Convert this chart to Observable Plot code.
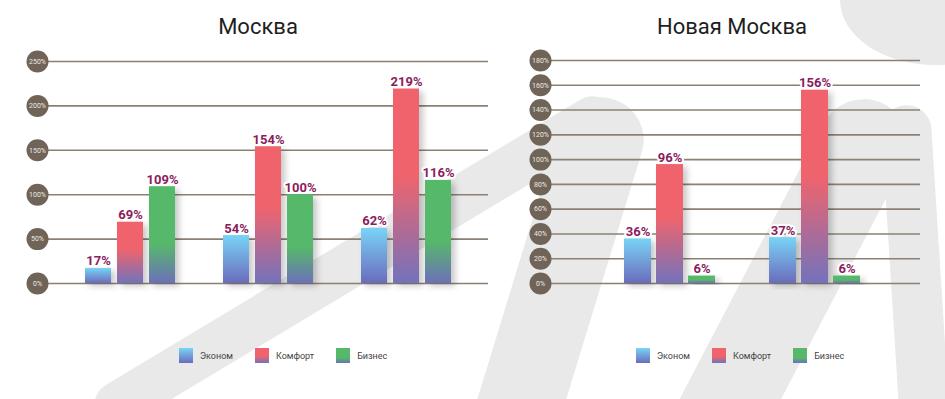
<!DOCTYPE html>
<html>
<head>
<meta charset="utf-8">
<script src="https://cdn.jsdelivr.net/npm/d3@7"></script>
<script src="https://cdn.jsdelivr.net/npm/@observablehq/plot@0.6"></script>
<style>
  body { margin: 0; background: #fff; font-family: Roboto, sans-serif; }
  #wrap { position: relative; width: 945px; height: 399px; overflow: hidden; background: #fff; }
  .bg { position: absolute; background: #e9e9e9; transform-origin: 50% 50%; }
  .panel { position: absolute; top: 0; height: 399px; }
  .title { position: absolute; top: 16px; text-align: center; font-size: 22px; line-height: 22px; color: #1e1e1e; font-family: Roboto, sans-serif; }
  .chart { position: absolute; top: 40px; left: 0; }
  .legend { position: absolute; top: 348px; display: flex; align-items: center; font-size: 9px; color: #444; font-family: Roboto, sans-serif; }
  .legend .item { display: flex; align-items: center; margin-right: 22px; }
  .legend .sw { width: 14px; height: 15px; margin-right: 7px; }
  svg g[aria-label="bar"] { filter: url(#shadow); }
</style>
</head>
<body>
<svg width="0" height="0" style="position:absolute">
  <defs>
    <linearGradient id="gE" x1="0" y1="0" x2="0" y2="1">
      <stop offset="0" stop-color="#78d4f7"/>
      <stop offset="1" stop-color="#6a6cbc"/>
    </linearGradient>
    <linearGradient id="gK" x1="0" y1="0" x2="0" y2="1">
      <stop offset="0" stop-color="#f1636c"/>
      <stop offset="0.45" stop-color="#ef646d"/>
      <stop offset="1" stop-color="#7372bc"/>
    </linearGradient>
    <linearGradient id="gB" x1="0" y1="0" x2="0" y2="1">
      <stop offset="0" stop-color="#56b96a"/>
      <stop offset="0.6" stop-color="#56b86b"/>
      <stop offset="1" stop-color="#6c70b9"/>
    </linearGradient>
    <filter id="shadow" x="-20%" y="-10%" width="140%" height="125%">
      <feDropShadow dx="4" dy="3" stdDeviation="3" flood-color="#000" flood-opacity="0.22"/>
    </filter>
  </defs>
</svg>
<div id="wrap">
  <div class="bg" style="left:55px;top:239px;width:600px;height:46px;border-radius:23px;transform:rotate(-31deg)"></div>
  <div class="bg" style="left:522px;top:92px;width:85px;height:335px;border-radius:42px 42px 0 0;transform:rotate(17deg)"></div>
  <div class="bg" style="left:757px;top:84px;width:90px;height:356px;border-radius:45px 45px 0 0;transform:rotate(27.6deg)"></div>
  <div class="bg" style="left:890px;top:105px;width:50px;height:320px;border-radius:25px 25px 0 0;transform:rotate(-3.6deg)"></div>
  <div class="bg" style="left:840px;top:-65px;width:190px;height:130px;border-radius:50%"></div>

  <div class="panel" id="left" style="left:0;width:500px;">
    <div class="title" style="left:0;width:516px;">Москва</div>
    <div class="chart" id="chartLeft"></div>
    <div class="legend" id="legLeft" style="left:179px;"></div>
  </div>
  <div class="panel" id="right" style="left:500px;width:445px;">
    <div class="title" style="left:0;width:464px;">Новая Москва</div>
    <div class="chart" id="chartRight"></div>
    <div class="legend" id="legRight" style="left:136px;"></div>
  </div>
</div>
<script>
// ---- data ----
const categories = ["Эконом", "Комфорт", "Бизнес"];
const gradients = ["url(#gE)", "url(#gK)", "url(#gB)"];

const mskGroups = ["Группа 1", "Группа 2", "Группа 3"];
const mskEconom = [17, 54, 62];
const mskKomfort = [69, 154, 219];
const mskBiznes = [109, 100, 116];
const mskTicks = [0, 50, 100, 150, 200, 250];

const newGroups = ["Группа 1", "Группа 2"];
const newEconom = [36, 37];
const newKomfort = [96, 156];
const newBiznes = [6, 6];
const newTicks = [0, 20, 40, 60, 80, 100, 120, 140, 160, 180];

function rowsOf(groups, seriesList) {
  const rows = [];
  seriesList.forEach((vals, ci) => {
    groups.forEach((g, gi) => rows.push({group: g, cat: categories[ci], value: vals[gi]}));
  });
  return rows;
}

function makeChart(cfg) {
  const rows = rowsOf(cfg.groups, cfg.series);
  const step = (cfg.xRange[1] - cfg.xRange[0]) / cfg.groups.length;
  const inset = (step - cfg.barWidth) / 2;
  const marks = [
    Plot.ruleY(cfg.ticks, {stroke: "#8a8172", strokeWidth: 1.6})
  ];
  categories.forEach((c, i) => {
    marks.push(Plot.barY(rows.filter(r => r.cat === c), {
      x: "group", y: "value", fill: gradients[i],
      insetLeft: inset, insetRight: inset, dx: (i - 1) * cfg.offset
    }));
  });
  marks.push(Plot.dot(cfg.ticks, {y: d => d, frameAnchor: "left", r: 11, fill: "#6f6457"}));
  marks.push(Plot.text(cfg.ticks, {y: d => d, frameAnchor: "left", textAnchor: "middle", text: d => d + "%", fill: "#efe9e2", fontSize: 7}));
  categories.forEach((c, i) => {
    marks.push(Plot.text(rows.filter(r => r.cat === c), {
      x: "group", y: "value", dx: (i - 1) * cfg.offset, dy: -3, lineAnchor: "bottom",
      text: d => d.value + "%", fill: "#8b1d5e", fontWeight: "bold", fontSize: 13,
      stroke: "white", strokeWidth: 4
    }));
  });
  return Plot.plot({
    width: cfg.width, height: 260,
    marginLeft: cfg.marginLeft, marginRight: cfg.marginRight,
    marginTop: cfg.marginTop, marginBottom: 17,
    style: {background: "transparent", fontFamily: "Roboto, sans-serif", overflow: "visible"},
    x: {domain: cfg.groups, range: cfg.xRange, padding: 0, axis: null},
    y: {domain: [0, cfg.yMax], axis: null},
    marks
  });
}

document.getElementById("chartLeft").append(makeChart({
  groups: mskGroups, series: [mskEconom, mskKomfort, mskBiznes], ticks: mskTicks,
  width: 500, marginLeft: 37, marginRight: 12, marginTop: 21, yMax: 250,
  xRange: [61, 475], barWidth: 26, offset: 32
}));
document.getElementById("chartRight").append(makeChart({
  groups: newGroups, series: [newEconom, newKomfort, newBiznes], ticks: newTicks,
  width: 445, marginLeft: 40, marginRight: 25, marginTop: 20, yMax: 180,
  xRange: [96.5, 386.5], barWidth: 27, offset: 32
}));

function legend(id) {
  const el = document.getElementById(id);
  categories.forEach((c, i) => {
    const item = document.createElement("div");
    item.className = "item";
    const sw = document.createElement("div");
    sw.className = "sw";
    sw.style.background = ["linear-gradient(#78d4f7,#6a6cbc)", "linear-gradient(#f1636c 55%,#7372bc)", "linear-gradient(#56b96a 65%,#6c70b9)"][i];
    const t = document.createElement("span");
    t.textContent = c;
    item.append(sw, t);
    el.append(item);
  });
}
legend("legLeft");
legend("legRight");
</script>
</body>
</html>
